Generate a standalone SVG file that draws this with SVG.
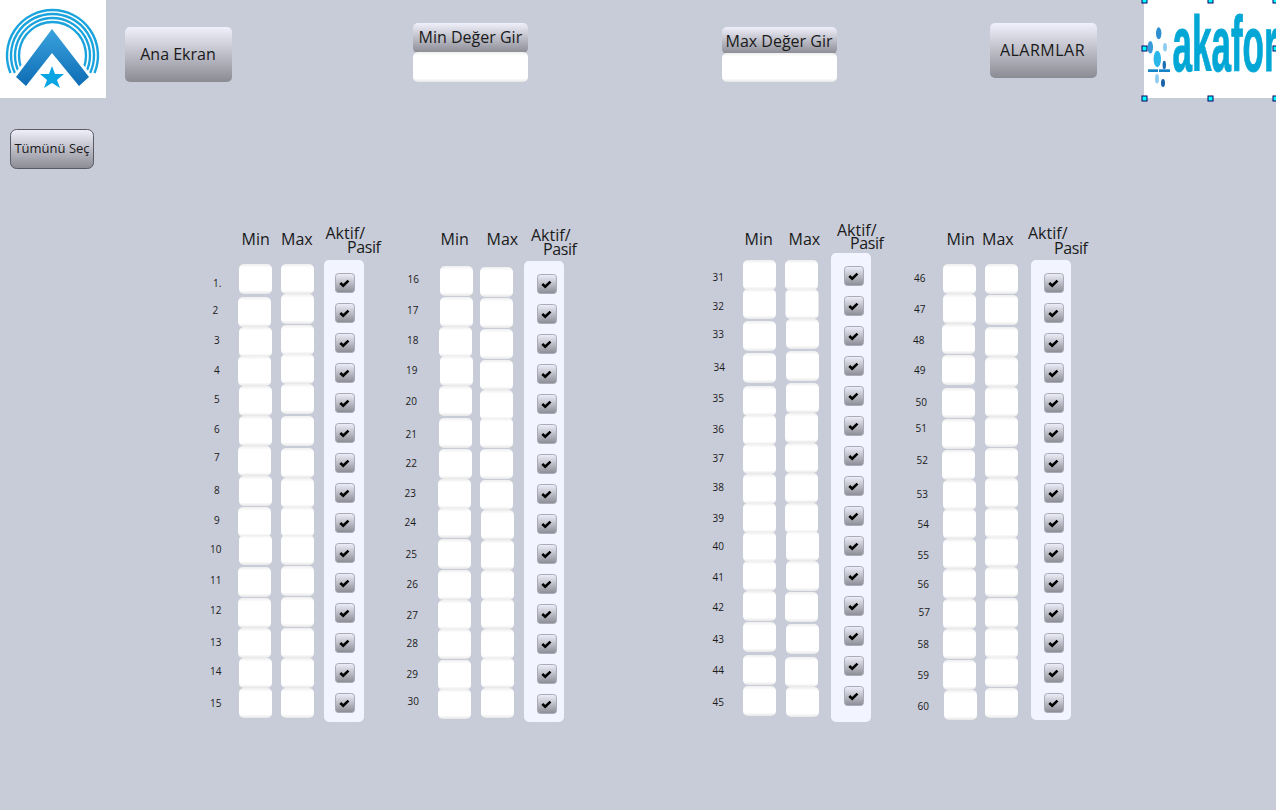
<svg xmlns="http://www.w3.org/2000/svg" width="1276" height="810" viewBox="0 0 1276 810">
<style>
text{font-family:"Open Sans","Noto Sans","Liberation Sans",sans-serif;fill:#1a1a1a}
.n{font-size:10px}
.h{font-size:16px}
.ps{letter-spacing:-.4px}
.b{font-size:16px;text-anchor:middle}
.p{fill:#f2f4ff}
.ring{fill:none;stroke:#1aa3dc;stroke-width:2.400}
.hd{fill:#0ff;stroke:#006;stroke-width:1}
</style>
<defs>
<linearGradient id="btn" x1="0" y1="0" x2="0" y2="1"><stop offset="0" stop-color="#eff0fb"/><stop offset="1" stop-color="#8b8b94"/></linearGradient>
<linearGradient id="inp" x1="0" y1="0" x2="0" y2="1"><stop offset="0" stop-color="#eeeeee"/><stop offset=".12" stop-color="#fff"/><stop offset=".88" stop-color="#fff"/><stop offset="1" stop-color="#e6e6e6"/></linearGradient>
<linearGradient id="chev" x1="0" y1="0" x2="0" y2="1"><stop offset="0" stop-color="#3aa3de"/><stop offset="1" stop-color="#0e6cb4"/></linearGradient>
<g id="i"><rect width="33" height="30" rx="5" fill="url(#inp)"/></g>
<g id="c"><rect x=".5" y=".5" width="19" height="19" rx="3" fill="url(#btn)" stroke="#a9abb6"/><path d="M5.3 10 L8.2 12.8 L13.5 7.6" fill="none" stroke="#000" stroke-width="2.600"/></g>
</defs>
<rect width="1276" height="810" fill="#c8ccd8"/>

<g id="logo-left">
<rect width="106" height="98" fill="#fff"/>
<path class="ring" d="M10.500 73A45.500 45.500 0 1 1 94.500 73"/>
<path class="ring" d="M14.900 73A41.500 41.500 0 1 1 90.100 73"/>
<path class="ring" d="M19.300 73A37.500 37.500 0 1 1 85.700 73"/>
<path class="ring" d="M23.900 73A33.500 33.500 0 1 1 81.100 73"/>
<polygon points="52,25 13,76 13,92 92,92 92,76" fill="#fff"/>
<polygon points="52,29 16,77 26,86 52,53 79,86 89,77" fill="url(#chev)"/>
<polygon points="52,66 55,74 64,74 57,80 60,88 52,83 44,88 47,80 40,74 49,74" fill="#0ba5e4"/>
</g>
<g id="btn-ana-ekran"><rect x="125" y="27" width="107" height="55" rx="5" fill="url(#btn)"/><text class="b" x="178" y="60">Ana Ekran</text></g>
<g id="btn-min"><rect x="413" y="23" width="115" height="30" rx="5" fill="url(#btn)"/><rect x="413" y="52" width="115" height="30" rx="5" fill="url(#inp)"/><text class="b" x="470.400" y="43">Min Değer Gir</text></g>
<g id="btn-max"><rect x="722" y="27" width="115" height="27" rx="5" fill="url(#btn)"/><rect x="722" y="53" width="115" height="29" rx="5" fill="url(#inp)"/><text class="b" x="779" y="47">Max Değer Gir</text></g>
<g id="btn-alarmlar"><rect x="990" y="23" width="107" height="55" rx="5" fill="url(#btn)"/><text class="b" x="1042.500" y="56" style="letter-spacing:.5px">ALARMLAR</text></g>
<g id="logo-right">
<rect x="1144" y="0" width="132" height="98" fill="#fff"/>
<ellipse cx="1158.700" cy="33.300" rx="2.700" ry="6" fill="#2d8fd0"/>
<ellipse cx="1150.300" cy="47.300" rx="2.700" ry="6.300" fill="#3a9bdc"/>
<ellipse cx="1165" cy="47.300" rx="2" ry="4.300" fill="#8fcdf0"/>
<ellipse cx="1157.300" cy="59" rx="3.700" ry="8.300" fill="#29b6e8"/>
<ellipse cx="1164.300" cy="65" rx="1.700" ry="4.300" fill="#1a6fb5"/>
<ellipse cx="1157" cy="78.700" rx="2" ry="4.700" fill="#8fcdf0"/>
<ellipse cx="1163" cy="83" rx="2" ry="4" fill="#1a63a8"/>
<rect x="1148" y="69.300" width="10" height="2.700" fill="#1583c8"/>
<rect x="1159" y="69.300" width="11" height="2.700" fill="#1583c8"/>
<text transform="translate(1172.500 71) scale(.455 1)" style="font-family:'Liberation Sans',sans-serif;font-weight:700;font-size:77px;fill:#03a7d6;stroke:#03a7d6;stroke-width:1">akafor</text>
<rect class="hd" x="1142" y="-2" width="5" height="5"/><rect class="hd" x="1208" y="-2" width="5" height="5"/><rect class="hd" x="1273" y="-2" width="5" height="5"/>
<rect class="hd" x="1142" y="46" width="5" height="5"/><rect class="hd" x="1273" y="46" width="5" height="5"/>
<rect class="hd" x="1142" y="96" width="5" height="5"/><rect class="hd" x="1208" y="96" width="5" height="5"/><rect class="hd" x="1273" y="96" width="5" height="5"/>
</g>
<g id="btn-tumunu-sec"><rect x="10.500" y="129.500" width="83" height="39" rx="6" fill="url(#btn)" stroke="#5a5a64"/><text class="b" x="52" y="153" style="font-size:13px">Tümünü Seç</text></g>

<g id="headers">
<text class="h" x="241.500" y="245">Min</text><text class="h" x="281" y="245">Max</text><text class="h" x="325.500" y="239">Aktif/</text><text class="h ps" x="347" y="253">Pasif</text>
<text class="h" x="440.500" y="245">Min</text><text class="h" x="486.500" y="245">Max</text><text class="h" x="531" y="241">Aktif/</text><text class="h ps" x="543" y="255">Pasif</text>
<text class="h" x="744.500" y="245">Min</text><text class="h" x="788.500" y="245">Max</text><text class="h" x="837" y="236">Aktif/</text><text class="h ps" x="850" y="249">Pasif</text>
<text class="h" x="946.500" y="245">Min</text><text class="h" x="982" y="245">Max</text><text class="h" x="1028" y="239">Aktif/</text><text class="h ps" x="1054" y="254">Pasif</text>
</g>

<g id="column-1">
<rect class="p" x="324" y="260" width="40" height="462" rx="5"/>
<g id="row-1"><text class="n" x="213" y="287">1.</text><use href="#i" x="239" y="264"/><use href="#i" x="281" y="264"/><use href="#c" x="335" y="273"/></g>
<g id="row-2"><text class="n" x="212.500" y="314">2</text><use href="#i" x="238" y="297"/><use href="#i" x="281" y="294"/><use href="#c" x="335" y="303"/></g>
<g id="row-3"><text class="n" x="214" y="344">3</text><use href="#i" x="239" y="327"/><use href="#i" x="281" y="325"/><use href="#c" x="335" y="333"/></g>
<g id="row-4"><text class="n" x="214" y="374">4</text><use href="#i" x="238" y="356"/><use href="#i" x="281" y="354"/><use href="#c" x="335" y="363"/></g>
<g id="row-5"><text class="n" x="214" y="403">5</text><use href="#i" x="239" y="386"/><use href="#i" x="281" y="384"/><use href="#c" x="335" y="393"/></g>
<g id="row-6"><text class="n" x="214" y="433">6</text><use href="#i" x="239" y="416"/><use href="#i" x="281" y="416"/><use href="#c" x="335" y="423"/></g>
<g id="row-7"><text class="n" x="214" y="461">7</text><use href="#i" x="238" y="446"/><use href="#i" x="281" y="448"/><use href="#c" x="335" y="453"/></g>
<g id="row-8"><text class="n" x="214" y="494">8</text><use href="#i" x="239" y="476"/><use href="#i" x="281" y="478"/><use href="#c" x="335" y="483"/></g>
<g id="row-9"><text class="n" x="214" y="524">9</text><use href="#i" x="238" y="507"/><use href="#i" x="281" y="507"/><use href="#c" x="335" y="513"/></g>
<g id="row-10"><text class="n" x="210" y="553">10</text><use href="#i" x="239" y="535"/><use href="#i" x="281" y="535"/><use href="#c" x="335" y="543"/></g>
<g id="row-11"><text class="n" x="210" y="584">11</text><use href="#i" x="238" y="567"/><use href="#i" x="281" y="566"/><use href="#c" x="335" y="573"/></g>
<g id="row-12"><text class="n" x="210" y="614">12</text><use href="#i" x="238" y="598"/><use href="#i" x="281" y="597"/><use href="#c" x="335" y="603"/></g>
<g id="row-13"><text class="n" x="210" y="646">13</text><use href="#i" x="238" y="628"/><use href="#i" x="281" y="628"/><use href="#c" x="335" y="633"/></g>
<g id="row-14"><text class="n" x="210" y="675">14</text><use href="#i" x="239" y="658"/><use href="#i" x="281" y="658"/><use href="#c" x="335" y="663"/></g>
<g id="row-15"><text class="n" x="210" y="707">15</text><use href="#i" x="239" y="688"/><use href="#i" x="281" y="688"/><use href="#c" x="335" y="693"/></g>
</g>

<g id="column-2">
<rect class="p" x="524" y="261" width="40" height="461" rx="5"/>
<g id="row-16"><text class="n" x="407.500" y="283">16</text><use href="#i" x="440" y="266"/><use href="#i" x="480" y="267"/><use href="#c" x="537" y="274"/></g>
<g id="row-17"><text class="n" x="407" y="314">17</text><use href="#i" x="440" y="297"/><use href="#i" x="480" y="298"/><use href="#c" x="537" y="304"/></g>
<g id="row-18"><text class="n" x="407" y="344">18</text><use href="#i" x="439" y="327"/><use href="#i" x="480" y="329"/><use href="#c" x="537" y="334"/></g>
<g id="row-19"><text class="n" x="406" y="374">19</text><use href="#i" x="440" y="356"/><use href="#i" x="480" y="360"/><use href="#c" x="537" y="364"/></g>
<g id="row-20"><text class="n" x="405.500" y="405">20</text><use href="#i" x="439" y="386"/><use href="#i" x="480" y="390"/><use href="#c" x="537" y="394"/></g>
<g id="row-21"><text class="n" x="405.500" y="438">21</text><use href="#i" x="439" y="418"/><use href="#i" x="480" y="418"/><use href="#c" x="537" y="424"/></g>
<g id="row-22"><text class="n" x="405.500" y="467">22</text><use href="#i" x="439" y="449"/><use href="#i" x="480" y="449"/><use href="#c" x="537" y="454"/></g>
<g id="row-23"><text class="n" x="404.500" y="497">23</text><use href="#i" x="438" y="479"/><use href="#i" x="480" y="480"/><use href="#c" x="537" y="484"/></g>
<g id="row-24"><text class="n" x="404.500" y="526">24</text><use href="#i" x="438" y="508"/><use href="#i" x="481" y="510"/><use href="#c" x="537" y="514"/></g>
<g id="row-25"><text class="n" x="405.500" y="558">25</text><use href="#i" x="438" y="539"/><use href="#i" x="481" y="540"/><use href="#c" x="537" y="544"/></g>
<g id="row-26"><text class="n" x="406.500" y="588">26</text><use href="#i" x="438" y="570"/><use href="#i" x="481" y="570"/><use href="#c" x="537" y="574"/></g>
<g id="row-27"><text class="n" x="406.500" y="619">27</text><use href="#i" x="438" y="600"/><use href="#i" x="481" y="599"/><use href="#c" x="537" y="604"/></g>
<g id="row-28"><text class="n" x="406.500" y="647">28</text><use href="#i" x="438" y="629"/><use href="#i" x="481" y="629"/><use href="#c" x="537" y="634"/></g>
<g id="row-29"><text class="n" x="406.500" y="678">29</text><use href="#i" x="438" y="660"/><use href="#i" x="481" y="658"/><use href="#c" x="537" y="664"/></g>
<g id="row-30"><text class="n" x="407.500" y="705">30</text><use href="#i" x="438" y="689"/><use href="#i" x="481" y="688"/><use href="#c" x="537" y="694"/></g>
</g>

<g id="column-3">
<rect class="p" x="831" y="253" width="40" height="469" rx="5"/>
<g id="row-31"><text class="n" x="712.500" y="281">31</text><use href="#i" x="743" y="260"/><use href="#i" x="785" y="260"/><use href="#c" x="844" y="266"/></g>
<g id="row-32"><text class="n" x="712.500" y="310">32</text><use href="#i" x="743" y="289"/><use href="#i" x="785.500" y="289"/><use href="#c" x="844" y="296"/></g>
<g id="row-33"><text class="n" x="712.500" y="338">33</text><use href="#i" x="743" y="321"/><use href="#i" x="786" y="319"/><use href="#c" x="844" y="326"/></g>
<g id="row-34"><text class="n" x="713.500" y="371">34</text><use href="#i" x="743" y="353"/><use href="#i" x="786" y="351"/><use href="#c" x="844" y="356"/></g>
<g id="row-35"><text class="n" x="712.500" y="402">35</text><use href="#i" x="743" y="386"/><use href="#i" x="786" y="383"/><use href="#c" x="844" y="386"/></g>
<g id="row-36"><text class="n" x="712.500" y="433">36</text><use href="#i" x="743" y="415"/><use href="#i" x="785" y="413"/><use href="#c" x="844" y="416"/></g>
<g id="row-37"><text class="n" x="712.500" y="462">37</text><use href="#i" x="743" y="444"/><use href="#i" x="785" y="443"/><use href="#c" x="844" y="446"/></g>
<g id="row-38"><text class="n" x="712.500" y="491">38</text><use href="#i" x="743" y="474"/><use href="#i" x="785" y="473"/><use href="#c" x="844" y="476"/></g>
<g id="row-39"><text class="n" x="712.500" y="522">39</text><use href="#i" x="743" y="503"/><use href="#i" x="785" y="503"/><use href="#c" x="844" y="506"/></g>
<g id="row-40"><text class="n" x="712.500" y="550">40</text><use href="#i" x="743" y="532"/><use href="#i" x="786" y="531"/><use href="#c" x="844" y="536"/></g>
<g id="row-41"><text class="n" x="712.500" y="581">41</text><use href="#i" x="743" y="561"/><use href="#i" x="786" y="561"/><use href="#c" x="844" y="566"/></g>
<g id="row-42"><text class="n" x="712.500" y="611">42</text><use href="#i" x="743" y="591"/><use href="#i" x="785" y="592"/><use href="#c" x="844" y="596"/></g>
<g id="row-43"><text class="n" x="712.500" y="643">43</text><use href="#i" x="743" y="622"/><use href="#i" x="786" y="624"/><use href="#c" x="844" y="626"/></g>
<g id="row-44"><text class="n" x="712.500" y="674">44</text><use href="#i" x="743" y="655"/><use href="#i" x="785" y="657"/><use href="#c" x="844" y="656"/></g>
<g id="row-45"><text class="n" x="712.500" y="706">45</text><use href="#i" x="743" y="686"/><use href="#i" x="786" y="687"/><use href="#c" x="844" y="686"/></g>
</g>

<g id="column-4">
<rect class="p" x="1031" y="260" width="40" height="460" rx="5"/>
<g id="row-46"><text class="n" x="914" y="282">46</text><use href="#i" x="943" y="264"/><use href="#i" x="985" y="264"/><use href="#c" x="1044" y="273"/></g>
<g id="row-47"><text class="n" x="914" y="313">47</text><use href="#i" x="943" y="294"/><use href="#i" x="985" y="295"/><use href="#c" x="1044" y="303"/></g>
<g id="row-48"><text class="n" x="913" y="344">48</text><use href="#i" x="942" y="324"/><use href="#i" x="985" y="327"/><use href="#c" x="1044" y="333"/></g>
<g id="row-49"><text class="n" x="914" y="374">49</text><use href="#i" x="942" y="355"/><use href="#i" x="985" y="357"/><use href="#c" x="1044" y="363"/></g>
<g id="row-50"><text class="n" x="915.500" y="406">50</text><use href="#i" x="942" y="388"/><use href="#i" x="985" y="387"/><use href="#c" x="1044" y="393"/></g>
<g id="row-51"><text class="n" x="915.500" y="432">51</text><use href="#i" x="942" y="419"/><use href="#i" x="985" y="417"/><use href="#c" x="1044" y="423"/></g>
<g id="row-52"><text class="n" x="916.500" y="464">52</text><use href="#i" x="942" y="450"/><use href="#i" x="985" y="448"/><use href="#c" x="1044" y="453"/></g>
<g id="row-53"><text class="n" x="916.500" y="498">53</text><use href="#i" x="943" y="480"/><use href="#i" x="985" y="478"/><use href="#c" x="1044" y="483"/></g>
<g id="row-54"><text class="n" x="917.500" y="528">54</text><use href="#i" x="943" y="509"/><use href="#i" x="985" y="508"/><use href="#c" x="1044" y="513"/></g>
<g id="row-55"><text class="n" x="917.500" y="559">55</text><use href="#i" x="943" y="539"/><use href="#i" x="985" y="537"/><use href="#c" x="1044" y="543"/></g>
<g id="row-56"><text class="n" x="917.500" y="588">56</text><use href="#i" x="943" y="569"/><use href="#i" x="985" y="567"/><use href="#c" x="1044" y="573"/></g>
<g id="row-57"><text class="n" x="918.500" y="616">57</text><use href="#i" x="943" y="599"/><use href="#i" x="985" y="598"/><use href="#c" x="1044" y="603"/></g>
<g id="row-58"><text class="n" x="917.500" y="648">58</text><use href="#i" x="943" y="629"/><use href="#i" x="985" y="628"/><use href="#c" x="1044" y="633"/></g>
<g id="row-59"><text class="n" x="917.500" y="679">59</text><use href="#i" x="943" y="660"/><use href="#i" x="985" y="657"/><use href="#c" x="1044" y="663"/></g>
<g id="row-60"><text class="n" x="917.500" y="710">60</text><use href="#i" x="944" y="690"/><use href="#i" x="985" y="688"/><use href="#c" x="1044" y="693"/></g>
</g>
</svg>
